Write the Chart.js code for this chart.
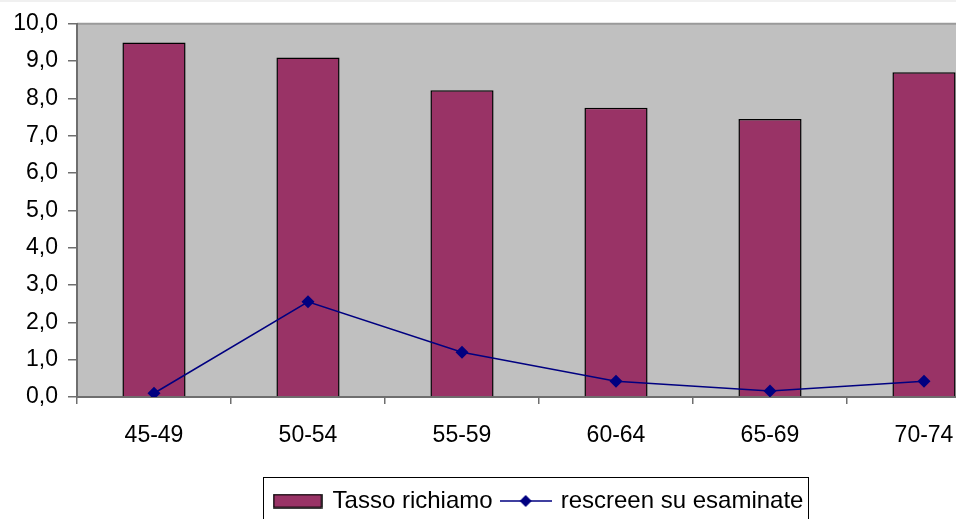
<!DOCTYPE html>
<html>
<head>
<meta charset="utf-8">
<script src="https://cdn.jsdelivr.net/npm/chart.js@4.4.1/dist/chart.umd.min.js"></script>
<style>
    html, body { margin: 0; padding: 0; background: #fff; overflow: hidden; }
    body { width: 956px; height: 519px; position: relative; }
    #topband { position: absolute; left: 0; top: 0; width: 956px; height: 2px; background: #f0f0f0; }
    #chart1 { position: absolute; left: 0; top: 0; }
</style>
</head>
<body>
<canvas id="chart1" width="1010" height="523"></canvas>
<div id="topband"></div>
<script>
const categories = ['45-49', '50-54', '55-59', '60-64', '65-69', '70-74'];
const tassoRichiamo = [9.5, 9.1, 8.22, 7.75, 7.45, 8.7];
const rescreen = [0.1, 2.55, 1.2, 0.42, 0.16, 0.42];
const seriesNames = ['Tasso richiamo', 'rescreen su esaminate'];

const MAROON = '#993366';
const NAVY = '#000080';
const AXIS = '#6e6e6e';
const FONT = '"Liberation Sans", Arial, sans-serif';

// legend icons
function barIcon() {
    const c = document.createElement('canvas');
    c.width = 50; c.height = 15;
    const x = c.getContext('2d');
    x.fillStyle = MAROON;
    x.fillRect(1, 1, 48, 13);
    x.strokeStyle = '#000';
    x.lineWidth = 1.5;
    x.strokeRect(1, 1, 48, 13);
    return c;
}
function lineIcon() {
    const c = document.createElement('canvas');
    c.width = 52; c.height = 14;
    const x = c.getContext('2d');
    x.strokeStyle = NAVY;
    x.lineWidth = 1.5;
    x.beginPath(); x.moveTo(0, 7); x.lineTo(52, 7); x.stroke();
    x.fillStyle = NAVY;
    x.beginPath(); x.moveTo(26, 1); x.lineTo(32, 7); x.lineTo(26, 13); x.lineTo(20, 7); x.closePath(); x.fill();
    return c;
}

const plotBg = {
    id: 'plotBg',
    beforeDraw(chart) {
        const a = chart.chartArea, ctx = chart.ctx;
        ctx.save();
        ctx.fillStyle = '#c0c0c0';
        ctx.fillRect(a.left, a.top, a.right - a.left, a.bottom - a.top);
        ctx.strokeStyle = '#9a9a9a';
        ctx.lineWidth = 2;
        ctx.beginPath(); ctx.moveTo(a.left, a.top); ctx.lineTo(a.right, a.top); ctx.stroke();
        ctx.restore();
    },
    afterDraw(chart) {
        const hb = chart.legend.legendHitBoxes;
        if (!hb || !hb.length) return;
        const last = hb[hb.length - 1];
        const cy = hb[0].top + hb[0].height / 2;
        const ctx = chart.ctx;
        ctx.save();
        ctx.strokeStyle = '#000';
        ctx.lineWidth = 1;
        ctx.strokeRect(Math.round(hb[0].left - 12) + 0.5, Math.round(cy - 24) + 0.5,
            Math.round(last.left + last.width - hb[0].left + 16), 52);
        ctx.restore();
    }
};

new Chart(document.getElementById('chart1'), {
    type: 'bar',
    data: {
        labels: categories,
        datasets: [{
            type: 'bar',
            label: seriesNames[0],
            data: tassoRichiamo,
            backgroundColor: MAROON,
            borderColor: '#000',
            borderWidth: 1.5,
            barPercentage: 0.41,
            categoryPercentage: 1,
            order: 1
        }, {
            type: 'line',
            label: seriesNames[1],
            data: rescreen,
            borderColor: NAVY,
            backgroundColor: NAVY,
            borderWidth: 1.5,
            pointStyle: 'rectRot',
            pointRadius: 6.5,
            pointBorderWidth: 0,
            tension: 0,
            order: 0
        }]
    },
    options: {
        responsive: false,
        animation: false,
        layout: { padding: { left: 0, right: 9, top: 23, bottom: 0 } },
        font: { family: FONT, size: 23 },
        plugins: {
            tooltip: { enabled: false },
            legend: {
                position: 'bottom',
                fullSize: false,
                labels: {
                    usePointStyle: true,
                    pointStyleWidth: 46,
                    boxHeight: 15,
                    padding: 10,
                    color: '#000',
                    font: { family: FONT, size: 24 },
                    generateLabels() {
                        return [
                            { text: seriesNames[0], pointStyle: barIcon(), fillStyle: MAROON, strokeStyle: '#000', lineWidth: 0, datasetIndex: 0 },
                            { text: seriesNames[1], pointStyle: lineIcon(), fillStyle: NAVY, strokeStyle: NAVY, lineWidth: 0, datasetIndex: 1 }
                        ];
                    }
                }
            }
        },
        scales: {
            x: {
                grid: { display: true, drawOnChartArea: false, offset: true, tickLength: 7, color: AXIS, lineWidth: 1.5 },
                border: { color: AXIS, width: 2 },
                ticks: { color: '#000', padding: 18, maxRotation: 0, font: { family: FONT, size: 23 } },
                afterFit(s) { s.height = 82; }
            },
            y: {
                min: 0,
                max: 10,
                grid: { display: true, drawOnChartArea: false, tickLength: 9, color: AXIS, lineWidth: 1.5 },
                border: { color: AXIS, width: 2 },
                ticks: {
                    stepSize: 1,
                    color: '#000',
                    padding: 10,
                    font: { family: FONT, size: 23 },
                    callback: v => v.toFixed(1).replace('.', ',')
                },
                afterFit(s) { s.width = 77; }
            }
        }
    },
    plugins: [plotBg]
});
</script>
</body>
</html>
